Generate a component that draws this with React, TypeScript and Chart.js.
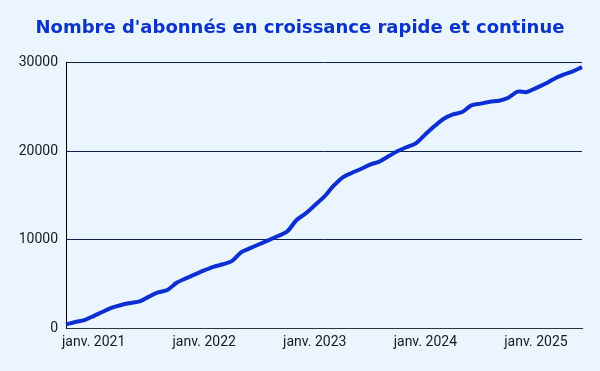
import React, { useEffect, useRef } from "react";
import { Chart, registerables } from "chart.js";

Chart.register(...registerables);

const title = "Nombre d'abonnés en croissance rapide et continue";

const months = [
  "oct. 2020", "nov. 2020", "déc. 2020",
  "janv. 2021", "févr. 2021", "mars 2021", "avr. 2021", "mai 2021", "juin 2021",
  "juil. 2021", "août 2021", "sept. 2021", "oct. 2021", "nov. 2021", "déc. 2021",
  "janv. 2022", "févr. 2022", "mars 2022", "avr. 2022", "mai 2022", "juin 2022",
  "juil. 2022", "août 2022", "sept. 2022", "oct. 2022", "nov. 2022", "déc. 2022",
  "janv. 2023", "févr. 2023", "mars 2023", "avr. 2023", "mai 2023", "juin 2023",
  "juil. 2023", "août 2023", "sept. 2023", "oct. 2023", "nov. 2023", "déc. 2023",
  "janv. 2024", "févr. 2024", "mars 2024", "avr. 2024", "mai 2024", "juin 2024",
  "juil. 2024", "août 2024", "sept. 2024", "oct. 2024", "nov. 2024", "déc. 2024",
  "janv. 2025", "févr. 2025", "mars 2025", "avr. 2025", "mai 2025", "juin 2025",
];

const subscribers = [
  400, 680, 900,
  1350, 1840, 2290, 2600, 2820, 3000,
  3540, 4020, 4290, 5110, 5600, 6050,
  6500, 6900, 7200, 7560, 8540, 9020,
  9490, 9930, 10400, 10900, 12180, 12940,
  13870, 14810, 16020, 17000, 17520, 17970,
  18460, 18800, 19400, 20000, 20450, 20900,
  21880, 22820, 23650, 24140, 24400, 25150,
  25350, 25570, 25680, 26020, 26700, 26660,
  27110, 27600, 28170, 28620, 28990, 29480,
];

const yTicks = [0, 10000, 20000, 30000];

const BG = "#ebf5ff";

export default function App() {
  const ref = useRef<HTMLCanvasElement | null>(null);

  useEffect(() => {
    document.body.style.margin = "0";
    document.body.style.background = BG;
    const canvas = ref.current;
    if (!canvas) return;
    const chart = new Chart(canvas, {
      type: "line",
      data: {
        labels: months,
        datasets: [
          {
            data: subscribers,
            borderColor: "#0b2fd2",
            borderWidth: 4,
            pointRadius: 0,
            pointHoverRadius: 0,
            fill: false,
            tension: 0.3,
            yAxisID: "y",
          },
        ],
      },
      options: {
        responsive: false,
        animation: false,
        devicePixelRatio: 1,
        layout: { padding: 0 },
        plugins: {
          legend: { display: false },
          tooltip: { enabled: false },
          title: {
            display: true,
            text: title,
            color: "#0a33c8",
            font: { family: "DejaVu Sans", size: 18, weight: "bold", lineHeight: 1.2 },
            padding: { top: 18, bottom: 22.9 },
          },
        },
        scales: {
          x: {
            type: "category",
            offset: false,
            grid: { display: false, drawTicks: false },
            border: { display: true, color: "#333333", width: 1 },
            ticks: {
              autoSkip: false,
              maxRotation: 0,
              minRotation: 0,
              padding: 6,
              color: "#1a1a1a",
              font: { family: "Roboto", size: 14 },
              callback: (_v: any, i: number) =>
                months[i].startsWith("janv.") ? months[i] : "",
            },
            afterFit: (s: any) => {
              s.height = 43;
            },
          },
          y: {
            min: yTicks[0],
            max: yTicks[yTicks.length - 1],
            grid: { color: "#0c1f45", lineWidth: 1, drawTicks: false },
            border: { display: true, color: "#000000", width: 1 },
            afterBuildTicks: (s: any) => {
              s.ticks = yTicks.map((v) => ({ value: v }));
            },
            ticks: {
              padding: 8,
              color: "#1a1a1a",
              font: { family: "Roboto", size: 14 },
              callback: (v: any) => String(v),
            },
            afterFit: (s: any) => {
              s.width = 66;
            },
          },
          yRight: {
            position: "right",
            display: true,
            min: 0,
            max: 1,
            grid: { display: false, drawTicks: false },
            border: { display: false },
            ticks: { display: false },
            afterFit: (s: any) => {
              s.width = 18;
            },
          },
        },
      },
    });
    return () => chart.destroy();
  }, []);

  return (
    <div style={{ width: 600, height: 371, background: BG }}>
      <canvas ref={ref} width={600} height={371} style={{ display: "block" }} />
    </div>
  );
}
